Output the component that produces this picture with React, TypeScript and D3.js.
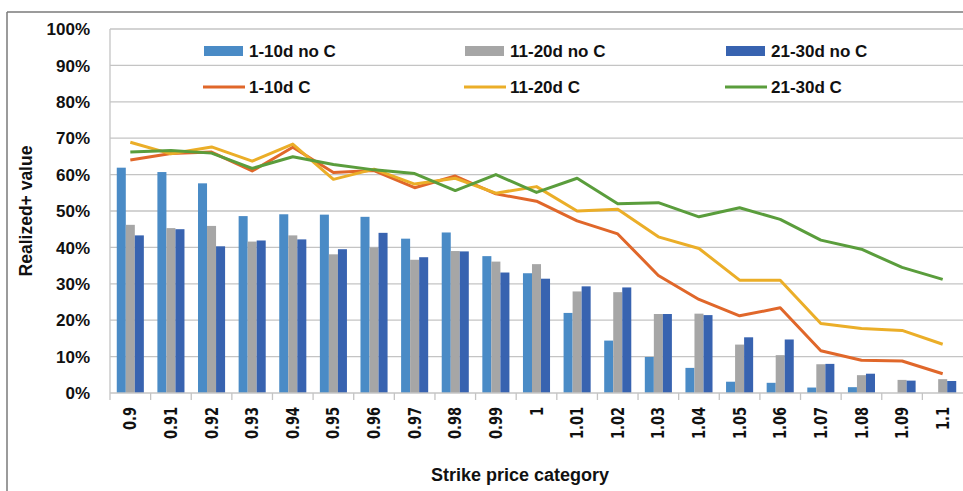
import React from "react";
import * as d3 from "d3";

const categories = ["0.9","0.91","0.92","0.93","0.94","0.95","0.96","0.97","0.98","0.99","1","1.01","1.02","1.03","1.04","1.05","1.06","1.07","1.08","1.09","1.1"];

const noC1_10 = [61.9,60.7,57.6,48.6,49.1,49.0,48.4,42.4,44.1,37.6,32.9,22.0,14.4,9.9,6.9,3.1,2.8,1.5,1.6,0,0];
const noC11_20 = [46.2,45.3,45.9,41.6,43.3,38.1,40.0,36.6,39.0,36.1,35.4,27.9,27.7,21.7,21.8,13.3,10.4,7.9,4.9,3.6,3.8];
const noC21_30 = [43.3,45.0,40.3,41.9,42.2,39.5,44.0,37.3,38.9,33.1,31.4,29.3,29.0,21.7,21.4,15.3,14.7,8.0,5.3,3.4,3.3];

const c1_10 = [64.0,65.8,66.2,61.0,67.5,60.6,61.1,56.4,59.6,54.7,52.7,47.3,43.7,32.3,25.7,21.2,23.4,11.6,9.0,8.8,5.3];
const c11_20 = [68.9,65.7,67.6,63.7,68.4,58.7,61.5,57.4,59.0,54.9,56.7,50.0,50.5,42.9,39.7,31.0,31.0,19.1,17.7,17.2,13.4];
const c21_30 = [66.2,66.6,65.9,61.7,64.9,62.8,61.3,60.3,55.6,60.0,55.1,59.0,52.0,52.3,48.4,50.9,47.7,42.0,39.5,34.5,31.2];

const yTicks = [0,10,20,30,40,50,60,70,80,90,100];

const barSeries = [
  { name: "1-10d no C", values: noC1_10, color: "#4a8bc6" },
  { name: "11-20d no C", values: noC11_20, color: "#a6a6a6" },
  { name: "21-30d no C", values: noC21_30, color: "#3863b0" },
];
const lineSeries = [
  { name: "1-10d C", values: c1_10, color: "#e0672a" },
  { name: "11-20d C", values: c11_20, color: "#ebae28" },
  { name: "21-30d C", values: c21_30, color: "#5a9d3c" },
];

export default function App() {
  const W = 963, H = 491;
  const left = 110, right = 963, top = 29, bottom = 393;
  const x = d3.scaleBand<string>().domain(categories).range([left, right]).padding(0);
  const inner = d3.scaleBand<string>().domain(barSeries.map(s => s.name)).range([0, x.bandwidth()]).paddingInner(0).paddingOuter(0.75);
  const y = d3.scaleLinear().domain([0, 100]).range([bottom, top]);
  const line = d3.line<number>().x((_, i) => (x(categories[i]) as number) + x.bandwidth() / 2).y(v => y(v));
  const font = "'Liberation Sans', Arial, sans-serif";
  const legendX = [204, 465, 726];

  return (
    <svg width={W} height={H} style={{ position: "absolute", left: 0, top: 0, background: "#fff" }}>
      <rect x={0} y={0} width={W} height={H} fill="#fff" />
      <line x1={7} y1={12} x2={W} y2={12} stroke="#7a7a7a" strokeWidth={1.5} />
      <line x1={7} y1={12} x2={7} y2={H} stroke="#7a7a7a" strokeWidth={1.5} />
      {yTicks.map(t => (
        <g key={t}>
          {t > 0 && <line x1={left} x2={right} y1={y(t)} y2={y(t)} stroke="#c4c4c4" strokeWidth={1.3} />}
          <text x={90} y={y(t)} dy="0.36em" textAnchor="end" fontFamily={font} fontWeight="bold" fontSize={17} fill="#111">{t}%</text>
        </g>
      ))}
      <line x1={left} x2={left} y1={top} y2={bottom} stroke="#c4c4c4" strokeWidth={1.3} />
      {barSeries.map(s => (
        <g key={s.name}>
          {s.values.map((v, i) => (
            v > 0 ? <rect key={i} x={(x(categories[i]) as number) + (inner(s.name) as number)} y={y(v)} width={inner.bandwidth()} height={bottom - y(v)} fill={s.color} /> : null
          ))}
        </g>
      ))}
      <line x1={left} x2={right} y1={bottom} y2={bottom} stroke="#c4c4c4" strokeWidth={1.3} />
      {categories.map((c, i) => (
        <line key={"t" + i} x1={x(c) as number} x2={x(c) as number} y1={bottom} y2={bottom + 7} stroke="#c4c4c4" strokeWidth={1.3} />
      ))}
      {lineSeries.map(s => (
        <path key={s.name} d={line(s.values) as string} fill="none" stroke={s.color} strokeWidth={3} strokeLinejoin="round" />
      ))}
      {categories.map(c => {
        const cx = (x(c) as number) + x.bandwidth() / 2;
        return (
          <text key={"l" + c} transform={`translate(${cx},407) rotate(-90) scale(1,1.3)`} textAnchor="end" dy="0.36em" fontFamily="'DejaVu Sans', Verdana, sans-serif" fontWeight="bold" fontSize={13} fill="#111">{c}</text>
        );
      })}
      <text x={520} y={481} textAnchor="middle" fontFamily={font} fontWeight="bold" fontSize={18} fill="#111">Strike price category</text>
      <text transform="translate(32,211) rotate(-90)" textAnchor="middle" fontFamily={font} fontWeight="bold" fontSize={17.5} fill="#111">Realized+ value</text>
      {barSeries.map((s, i) => (
        <g key={"lg" + i}>
          <rect x={legendX[i]} y={46} width={39} height={10} fill={s.color} />
          <text x={legendX[i] + 45} y={51} dy="0.36em" fontFamily={font} fontWeight="bold" fontSize={17} fill="#111">{s.name}</text>
        </g>
      ))}
      {lineSeries.map((s, i) => (
        <g key={"ll" + i}>
          <line x1={legendX[i] - 1} x2={legendX[i] + 41} y1={87} y2={87} stroke={s.color} strokeWidth={3} />
          <text x={legendX[i] + 45} y={87} dy="0.36em" fontFamily={font} fontWeight="bold" fontSize={17} fill="#111">{s.name}</text>
        </g>
      ))}
    </svg>
  );
}
